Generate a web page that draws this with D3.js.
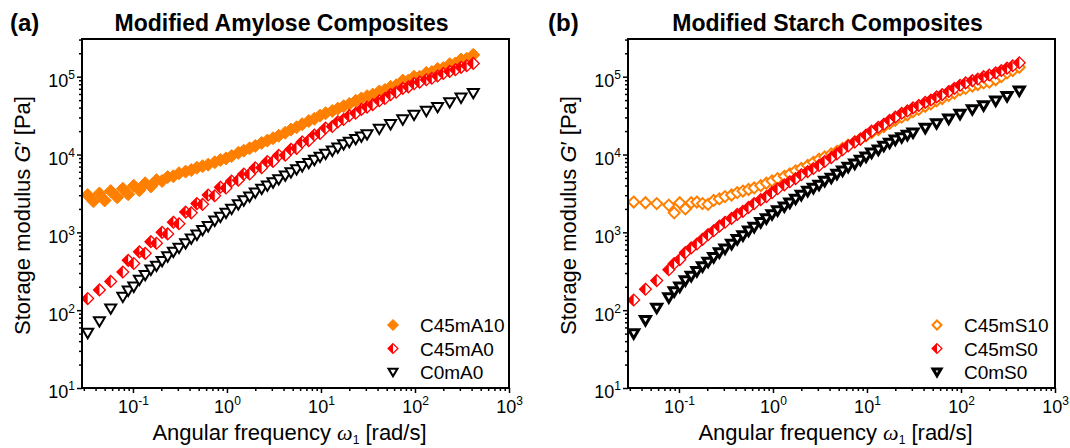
<!DOCTYPE html>
<html>
<head>
<meta charset="utf-8">
<script src="https://cdn.jsdelivr.net/npm/d3@7"></script>
<style>
  body { margin: 0; background: #fff; }
  text { font-family: "Liberation Sans", Arial, sans-serif; fill: #000; }
</style>
</head>
<body>
<svg id="fig" width="1070" height="448"></svg>
<script>
// frequency sweeps (two overlapping runs), rad/s
const freqA = [0.033, 0.044, 0.058, 0.078, 0.102, 0.135, 0.178, 0.234, 0.309, 0.417, 0.55, 0.741, 0.977,
  1.32, 1.74, 2.34, 3.09, 4.17, 5.5, 7.41, 9.77, 13.2, 17.4, 23.4, 30.9, 41.7, 55, 74.1, 97.7,
  132, 174, 234, 309, 417];
const freqB = [0.038, 0.05, 0.068, 0.089, 0.117, 0.155, 0.204, 0.269, 0.363, 0.479, 0.631, 0.851,
  1.12, 1.51, 2.0, 2.69, 3.55, 4.79, 6.31, 8.51, 11.2, 15.1, 20.0, 26.9,
  35.5, 47.9, 63.1, 85.1, 112, 151, 200, 269, 355];

// (a) modified amylose composites, G' [Pa]
const mA10_A = [3020, 3160, 3390, 3630, 3980, 4270, 4680, 5130, 5750, 6310, 7080, 7940, 8910, 10500, 12000,
  14100, 16200, 19100, 22400, 26900, 31600, 36300, 41700, 49000, 56200, 64600, 74100, 89100, 100000,
  112000, 126000, 145000, 166000, 191000];
const mA10_B = [2510, 2570, 2820, 3090, 3470, 3890, 4570, 5250, 6030, 6760, 7410, 8510, 9550, 11200, 12900,
  15100, 17400, 20900, 24500, 28800, 33900, 38900, 44700, 52500,
  58900, 67600, 77600, 89100, 100000, 115000, 129000, 148000, 170000];
const mA0_A = [141, 182, 234, 309, 398, 537, 724, 955, 1290, 1780, 2290, 2950, 3720, 4680, 5620, 6760, 8130,
  9770, 12000, 15100, 18600, 22900, 28200, 33900, 40700, 49000, 58900, 70800, 81300, 91200, 102000,
  117000, 132000, 148000];
const mA0_B = [null, null, null, 437, 562, 759, 1000, 1350, 1820, 2340, 3020, 3800, 4570, 5620, 6760, 8130,
  9770, 11700, 14500, 17800, 21900, 26300, 31600, 38000,
  43700, 52500, 63100, 74100, 85100, 95500, 110000, 123000, 138000];
const cA0_A = [51, 72, 105, 148, 200, 282, 372, 490, 631, 832, 1070, 1410, 1780, 2290, 2880, 3630, 4370, 5370,
  6460, 7760, 9330, 11200, 13500, 15800, 18200, 21400, 24500, 28200, 32400, 36300, 40700, 46800,
  53700, 61700];
const cA0_B = [null, null, null, 178, 245, 331, 427, 562, 724, 933, 1200, 1580, 2000, 2570, 3240, 3980, 4790,
  5890, 7080, 8510, 10200, 12300, 14500, 17000,
  null, null, null, null, null, null, null, null, null];

// (b) modified starch composites, G' [Pa]
const mS10_A = [2450, 2400, 2340, 2240, 2400, 2400, 2340, 2570, 2880, 3240, 3550, 3980, 4570, 5250, 6170,
  7240, 8710, 10200, 12000, 14500, 17400, 20900, 25100, 30200, 35500, 41700, 49000, 57500, 67600,
  75900, 83200, 91200, 112000, 132000];
const mS10_B = [null, null, null, 1780, 2000, 2450, 2290, 2690, 3020, 3390, 3720, 4270, 4900, 5620, 6610,
  7940, 9330, 11000, 13200, 15800, 19100, 22900, 27500, 32400,
  38000, 44700, 52500, 61700, 70800, 79400, 85100, 100000, 120000];
const mS0_A = [135, 186, 240, 331, 447, 631, 813, 1050, 1350, 1700, 2090, 2630, 3240, 4070, 4900, 6030, 7240,
  9120, 11500, 14500, 17800, 22400, 27500, 33900, 39800, 46800, 55000, 64600, 77600, 89100, 100000,
  112000, 129000, 151000];
const mS0_B = [null, null, null, 398, 550, 708, 933, 1200, 1510, 1860, 2340, 2880, 3630, 4470, 5500, 6610,
  8130, 10200, 12900, 15800, 20000, 24500, 30200, 36300,
  42700, 50100, 58900, 70800, 83200, 93300, 105000, 120000, 138000];
const cS0_A = [50, 74, 107, 145, 200, 275, 363, 479, 617, 813, 1050, 1350, 1700, 2140, 2690, 3390, 4070, 5010,
  6170, 7590, 9330, 11500, 14100, 16600, 19100, 21900, 25100, 28800, 33100, 38000, 42700, 49000,
  56200, 66100];
const cS0_B = [null, null, null, 174, 240, 316, 417, 550, 708, 912, 1170, 1510, 1910, 2400, 3020, 3720, 4570,
  5620, 6920, 8510, 10500, 12900, 15500, 17800,
  null, null, null, null, null, null, null, null, null];

const xMajor = [0.1, 1, 10, 100, 1000];
const yMajor = [10, 100, 1000, 10000, 100000];

const orange = "#ff7f00", red = "#ff0000", black = "#000";

const svg = d3.select("#fig");
const W = 427, H = 349, plotTop = 39;

const panels = [
  { left: 82, tag: "(a)", tagX: 10, title: "Modified Amylose Composites", legX: 393,
    series: [
      { name: "C45mA10", kind: "filled", color: orange, a: mA10_A, b: mA10_B },
      { name: "C45mA0", kind: "half", color: red, a: mA0_A, b: mA0_B },
      { name: "C0mA0", kind: "tri", color: black, a: cA0_A, b: cA0_B }
    ] },
  { left: 628, tag: "(b)", tagX: 548, title: "Modified Starch Composites", legX: 937,
    series: [
      { name: "C45mS10", kind: "open", color: orange, a: mS10_A, b: mS10_B },
      { name: "C45mS0", kind: "half", color: red, a: mS0_A, b: mS0_B },
      { name: "C0mS0", kind: "triHeavy", color: black, a: cS0_A, b: cS0_B }
    ] }
];

const diamond = r => `M0,${-r}L${r},0L0,${r}L${-r},0Z`;
const leftHalf = r => `M0,${-r}L${-r},0L0,${r}Z`;
const triDown = r => `M${-r},${-r * 0.75}L${r},${-r * 0.75}L0,${r * 0.95}Z`;

function addMarker(g, kind, color, r) {
  if (kind === "filled") {
    g.append("path").attr("d", diamond(r)).attr("fill", color).attr("stroke", color).attr("stroke-width", 1);
  } else if (kind === "open") {
    g.append("path").attr("d", diamond(r - 1)).attr("fill", "#fff").attr("stroke", color).attr("stroke-width", 2);
  } else if (kind === "half") {
    g.append("path").attr("d", diamond(r - 0.6)).attr("fill", "#fff").attr("stroke", color).attr("stroke-width", 1.3);
    g.append("path").attr("d", leftHalf(r - 0.6)).attr("fill", color);
  } else {
    const rt = kind === "tri" ? r - 1 : r - 1.5;
    g.append("path").attr("d", triDown(rt)).attr("fill", "#fff").attr("stroke", color)
      .attr("stroke-width", kind === "tri" ? 2 : 3).attr("stroke-linejoin", "miter");
  }
}

function supLabel(sel) {
  sel.each(function (d) {
    const t = d3.select(this).text(null);
    t.append("tspan").text("10");
    t.append("tspan").attr("font-size", 12).attr("dy", -8).text(Math.round(Math.log10(d)));
  });
}

panels.forEach((p, pi) => {
  const x = d3.scaleLog().domain([0.0287, 1000]).range([p.left, p.left + W]);
  const y = d3.scaleLog().domain([10, 3.05e5]).range([plotTop + H, plotTop]);
  const g = svg.append("g");

  // minor ticks
  const xMinor = x.ticks().filter(v => !xMajor.some(m => Math.abs(m - v) / m < 1e-6));
  const yMinor = y.ticks().filter(v => !yMajor.some(m => Math.abs(m - v) / m < 1e-6));

  g.append("g").attr("transform", `translate(0,${plotTop + H})`)
    .call(d3.axisBottom(x).tickValues(xMinor).tickSize(3).tickFormat(""))
    .call(a => a.select(".domain").remove())
    .call(a => a.selectAll("line").attr("stroke-width", 1.5));
  g.append("g").attr("transform", `translate(${p.left},0)`)
    .call(d3.axisLeft(y).tickValues(yMinor).tickSize(3).tickFormat(""))
    .call(a => a.select(".domain").remove())
    .call(a => a.selectAll("line").attr("stroke-width", 1.5));

  const xa = g.append("g").attr("transform", `translate(0,${plotTop + H})`)
    .call(d3.axisBottom(x).tickValues(xMajor).tickSize(5).tickPadding(7))
    .call(a => a.select(".domain").remove())
    .call(a => a.selectAll("line").attr("stroke-width", 1.5));
  xa.selectAll("text").attr("font-size", 18).call(supLabel);

  const ya = g.append("g").attr("transform", `translate(${p.left},0)`)
    .call(d3.axisLeft(y).tickValues(yMajor).tickSize(5).tickPadding(2))
    .call(a => a.select(".domain").remove())
    .call(a => a.selectAll("line").attr("stroke-width", 1.5));
  ya.selectAll("text").attr("font-size", 18).attr("dy", "0.55em").call(supLabel);

  // data
  svg.append("clipPath").attr("id", "clip" + pi)
    .append("rect").attr("x", p.left).attr("y", plotTop).attr("width", W).attr("height", H);
  const plot = svg.append("g").attr("clip-path", `url(#clip${pi})`);
  p.series.forEach(s => {
    const pts = freqA.map((f, i) => [f, s.a[i]])
      .concat(freqB.map((f, i) => [f, s.b[i]]))
      .filter(d => d[1] != null)
      .sort((u, v) => u[0] - v[0]);
    plot.append("g").selectAll("g").data(pts).join("g")
      .attr("transform", d => `translate(${x(d[0])},${y(d[1])})`)
      .each(function () { addMarker(d3.select(this), s.kind, s.color, 6.5); });
  });

  // frame
  svg.append("rect").attr("x", p.left).attr("y", plotTop).attr("width", W).attr("height", H)
    .attr("fill", "none").attr("stroke", "#000").attr("stroke-width", 2);

  // legend
  p.series.forEach((s, i) => {
    const ly = 325 + i * 23.5;
    addMarker(svg.append("g").attr("transform", `translate(${p.legX},${ly})`), s.kind, s.color, 5.5);
    svg.append("text").attr("x", p.legX + 27).attr("y", ly + 7).attr("font-size", 19).text(s.name);
  });

  // titles
  svg.append("text").attr("x", p.tagX).attr("y", 31).attr("font-size", 24).attr("font-weight", "bold").text(p.tag);
  svg.append("text").attr("x", p.left + W / 2 - 14).attr("y", 31).attr("text-anchor", "middle")
    .attr("font-size", 23).attr("font-weight", "bold").text(p.title);

  const xl = svg.append("text").attr("x", p.left + W / 2 - 6).attr("y", 440)
    .attr("text-anchor", "middle").attr("font-size", 22);
  xl.append("tspan").text("Angular frequency ");
  xl.append("tspan").attr("font-family", "Liberation Serif, serif").attr("font-style", "italic").text("ω");
  xl.append("tspan").attr("font-size", 12).attr("dy", 4).text("1");
  xl.append("tspan").attr("dy", -4).text(" [rad/s]");

  const yl = svg.append("text").attr("transform", `translate(${p.left - 52},${plotTop + H / 2 + 2}) rotate(-90)`)
    .attr("text-anchor", "middle").attr("font-size", 22);
  yl.append("tspan").text("Storage modulus ");
  yl.append("tspan").attr("font-style", "italic").text("G");
  yl.append("tspan").text("′ [Pa]");
});
</script>
</body>
</html>
